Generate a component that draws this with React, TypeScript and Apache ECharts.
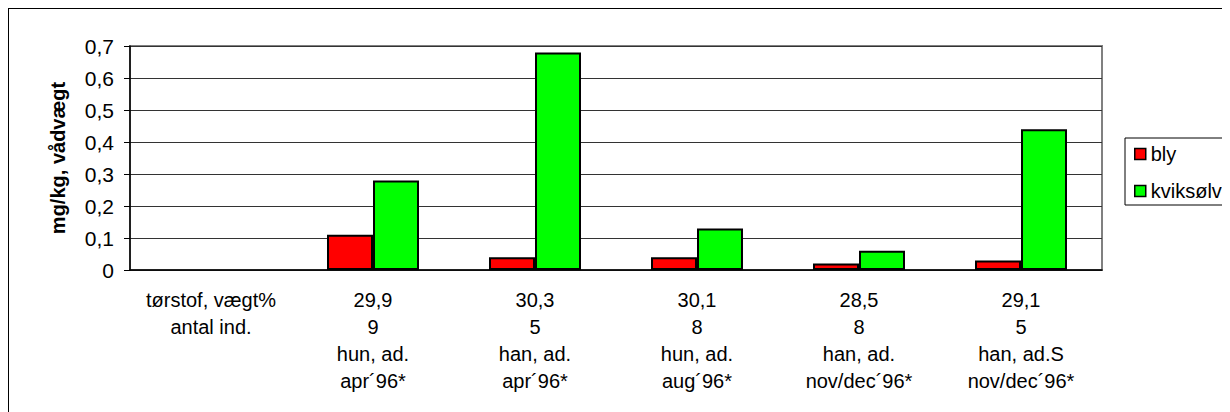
import React, { useEffect, useRef } from "react";
import * as echarts from "echarts";

// Sample groups: dry matter %, number of individuals, sex/age, sampling period
const dryMatter = ["29,9", "30,3", "30,1", "28,5", "29,1"];
const individuals = ["9", "5", "8", "8", "5"];
const sexAge = ["hun, ad.", "han, ad.", "hun, ad.", "han, ad.", "han, ad.S"];
const period = ["apr´96*", "apr´96*", "aug´96*", "nov/dec´96*", "nov/dec´96*"];
const headerLabel = "tørstof, vægt%\nantal ind.";

// mg/kg wet weight
const bly: (number | null)[] = [null, 0.11, 0.04, 0.04, 0.02, 0.03];
const kviksolv: (number | null)[] = [null, 0.28, 0.68, 0.13, 0.06, 0.44];

const yTicks = [0, 0.1, 0.2, 0.3, 0.4, 0.5, 0.6, 0.7];

const categories = [
  headerLabel,
  ...dryMatter.map((d, i) => [d, individuals[i], sexAge[i], period[i]].join("\n")),
];

const FONT = "Arial, 'Liberation Sans', sans-serif";

export default function App() {
  const ref = useRef<HTMLDivElement>(null);

  useEffect(() => {
    if (!ref.current) return;
    const chart = echarts.init(ref.current, null, { renderer: "svg" });
    chart.setOption({
      animation: false,
      textStyle: { fontFamily: FONT, color: "#000" },
      grid: {
        left: 121,
        top: 37,
        width: 972,
        height: 224,
        show: true,
        borderColor: "#808080",
        borderWidth: 2,
        backgroundColor: "transparent",
      },
      legend: {
        orient: "vertical",
        left: 1116,
        top: 129,
        padding: [5, 20, 3, 9],
        itemGap: 15,
        itemWidth: 11,
        itemHeight: 11,
        icon: "rect",
        borderColor: "#000",
        borderWidth: 1,
        itemStyle: { borderColor: "#000", borderWidth: 1.5 },
        textStyle: { fontSize: 20, fontFamily: FONT, color: "#000", lineHeight: 22 },
        data: ["bly", "kviksølv"],
      },
      xAxis: [
        {
          type: "category",
          data: categories,
          axisLine: { lineStyle: { color: "#000", width: 1.5 } },
          axisTick: { length: 6, lineStyle: { color: "#000" } },
          axisLabel: {
            interval: 0,
            margin: 16,
            fontSize: 20,
            lineHeight: 27,
            color: "#000",
            fontFamily: FONT,
          },
        },
        {
          type: "category",
          data: categories,
          position: "bottom",
          axisLine: { show: false },
          axisTick: { inside: true, length: 6, lineStyle: { color: "#000" } },
          axisLabel: { show: false },
        },
      ],
      yAxis: {
        type: "value",
        min: yTicks[0],
        max: yTicks[yTicks.length - 1],
        interval: 0.1,
        name: "mg/kg, vådvægt",
        nameLocation: "middle",
        nameGap: 62,
        nameTextStyle: { fontSize: 20, fontWeight: "bold", color: "#000", fontFamily: FONT },
        axisLine: { show: true, lineStyle: { color: "#000", width: 1.5 } },
        axisTick: { show: true, length: 6, lineStyle: { color: "#000" } },
        splitLine: { lineStyle: { color: "#333", width: 1 } },
        axisLabel: {
          margin: 16,
          fontSize: 21,
          color: "#000",
          fontFamily: FONT,
          formatter: (v: number) => (v === 0 ? "0" : v.toFixed(1).replace(".", ",")),
        },
      },
      series: [
        {
          name: "bly",
          type: "bar",
          data: bly,
          barWidth: 46,
          barGap: "0%",
          itemStyle: { color: "#FF0000", borderColor: "#000", borderWidth: 2 },
        },
        {
          name: "kviksølv",
          type: "bar",
          data: kviksolv,
          barWidth: 46,
          barGap: "0%",
          itemStyle: { color: "#00FF00", borderColor: "#000", borderWidth: 2 },
        },
      ],
    });
    return () => chart.dispose();
  }, []);

  return (
    <div
      style={{
        width: 1222,
        height: 404,
        borderTop: "1px solid #000",
        borderLeft: "1px solid #000",
        boxSizing: "border-box",
        overflow: "hidden",
      }}
    >
      <div ref={ref} style={{ width: 1221, height: 403 }} />
    </div>
  );
}
